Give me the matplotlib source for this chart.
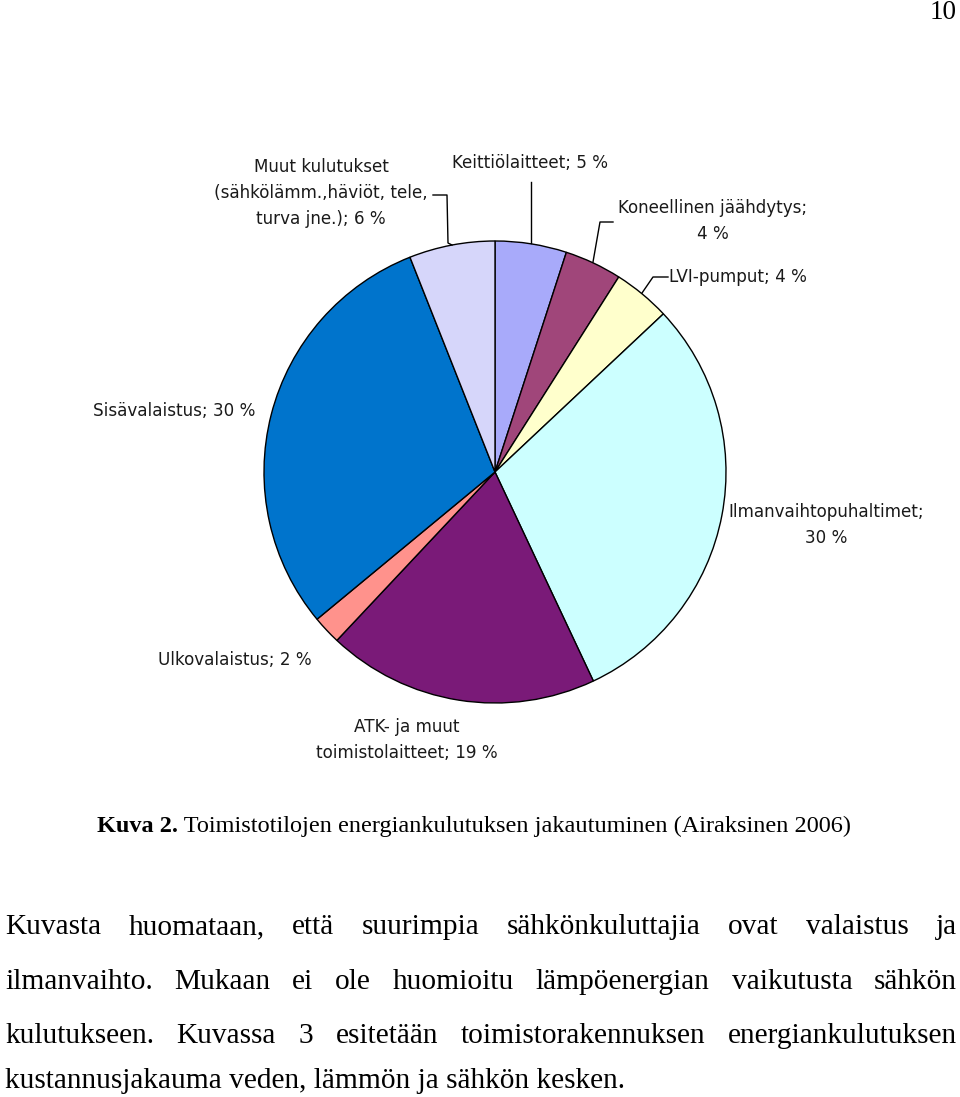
import matplotlib
matplotlib.use("Agg")
import matplotlib.pyplot as plt
from matplotlib.lines import Line2D

# ---- data ----
labels = ["Keittiölaitteet; 5 %", "Koneellinen jäähdytys;\n4 %", "LVI-pumput; 4 %",
          "Ilmanvaihtopuhaltimet;\n30 %", "ATK- ja muut\ntoimistolaitteet; 19 %",
          "Ulkovalaistus; 2 %", "Sisävalaistus; 30 %",
          "Muut kulutukset\n(sähkölämm.,häviöt, tele,\nturva jne.); 6 %"]
values = [5, 4, 4, 30, 19, 2, 30, 6]
colors = ["#A8AAFA", "#A0467A", "#FFFFCC", "#CCFFFF", "#7A1A78", "#FF928C", "#0074CC", "#D6D6FA"]

caption_bold = "Kuva 2."
caption_rest = " Toimistotilojen energiankulutuksen jakautuminen (Airaksinen 2006)"
body_lines = [
    "Kuvasta huomataan, että suurimpia sähkönkuluttajia ovat valaistus ja",
    "ilmanvaihto. Mukaan ei ole huomioitu lämpöenergian vaikutusta sähkön",
    "kulutukseen. Kuvassa 3 esitetään toimistorakennuksen energiankulutuksen",
    "kustannusjakauma veden, lämmön ja sähkön kesken.",
]
page_number = "10"

W, H = 960, 1097
fig = plt.figure(figsize=(W / 100, H / 100), dpi=100)
fig.patch.set_facecolor("white")

def fx(x):
    return x / W

def fy(y):
    return 1 - y / H

# ---- pie ----
cx, cy, r = 495, 472, 231
ax = fig.add_axes([fx(cx - r), fy(cy + r), 2 * r / W, 2 * r / H])
ax.pie(values, colors=colors, startangle=90, counterclock=False, radius=1,
       wedgeprops=dict(edgecolor="black", linewidth=1.0))
ax.set_xlim(-1, 1)
ax.set_ylim(-1, 1)
ax.set_aspect("equal")
ax.axis("off")

# ---- labels ----
lab_font = dict(family="DejaVu Sans", fontsize=12.1, color="#1a1a1a", linespacing=1.58)
label_pos = [
    (530, 163, "center"),
    (713, 221, "center"),
    (669, 277, "left"),
    (826, 525, "center"),
    (407, 740, "center"),
    (235, 660, "center"),
    (174, 411, "center"),
    (321, 193, "center"),
]
for lab, (x, y, ha) in zip(labels, label_pos):
    fig.text(fx(x), fy(y), lab, ha=ha, va="center", multialignment="center", **lab_font)

# leader lines (pixel coords)
leaders = [
    [(531, 182), (531, 243)],
    [(613, 222), (600, 222), (593, 262)],
    [(668, 277), (653, 277), (642, 293)],
    [(433, 195), (447, 195), (448, 243), (452, 245)],
]
for pts in leaders:
    xs = [fx(p[0]) for p in pts]
    ys = [fy(p[1]) for p in pts]
    fig.add_artist(Line2D(xs, ys, color="black", linewidth=1.0, transform=fig.transFigure))

# ---- caption ----
serif = "Liberation Serif"
fs_caption = 17.5
fs_body = 21.2
renderer = fig.canvas.get_renderer()
t_bold = fig.text(fx(97), fy(832), caption_bold, family=serif, fontsize=fs_caption,
                  fontweight="bold", ha="left", va="baseline")
bb = t_bold.get_window_extent(renderer)
fig.text(bb.x1 / W, fy(832), caption_rest, family=serif, fontsize=fs_caption,
         ha="left", va="baseline")

# ---- body text (justified) ----
line_base = [934, 989, 1043, 1088]
left, right = 5, 957
for i, (line, y) in enumerate(zip(body_lines, line_base)):
    if i == len(body_lines) - 1:
        fig.text(fx(left), fy(y), line, family=serif, fontsize=fs_body, ha="left", va="baseline")
        continue
    words = line.split(" ")
    arts = []
    widths = []
    for w in words:
        t = fig.text(0, fy(y), w, family=serif, fontsize=fs_body, ha="left", va="baseline")
        arts.append(t)
        widths.append(t.get_window_extent(renderer).width)
    gap = (right - left - sum(widths)) / (len(words) - 1)
    x = left
    for t, wd in zip(arts, widths):
        t.set_x(fx(x))
        x += wd + gap

# ---- page number ----
fig.text(fx(957), fy(19), page_number, family=serif, fontsize=19.5, ha="right", va="baseline")

fig.savefig("out.png", dpi=100, facecolor="white")
